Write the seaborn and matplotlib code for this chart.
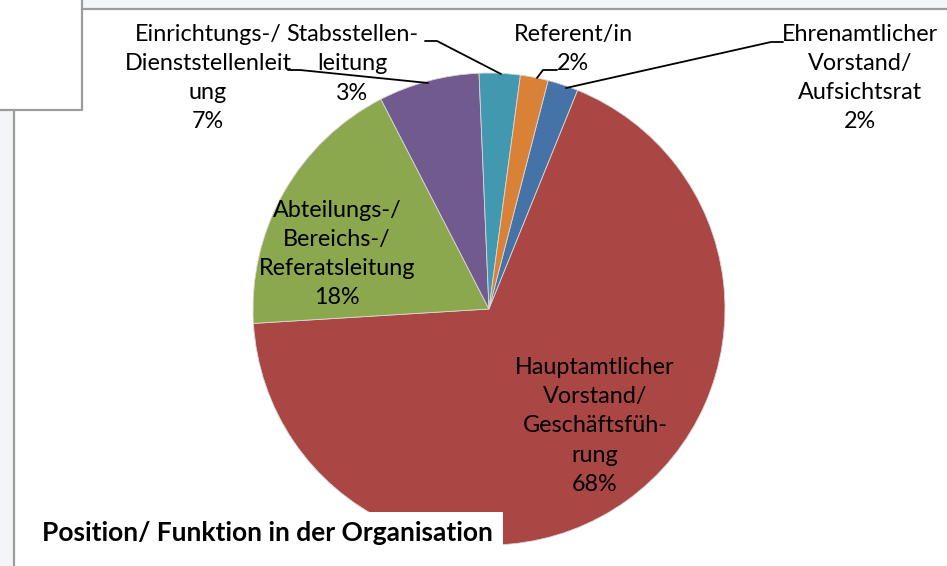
import matplotlib
matplotlib.use("Agg")
import matplotlib.pyplot as plt
import matplotlib.patches as mpatches
import seaborn as sns

# ------------------------------------------------------------
# data
# ------------------------------------------------------------
categories = [
    "Ehrenamtlicher\nVorstand/\nAufsichtsrat",
    "Hauptamtlicher\nVorstand/\nGeschäftsfüh-\nrung",
    "Abteilungs-/\nBereichs-/\nReferatsleitung",
    "Einrichtungs-/\nDienststellenleit\nung",
    "Stabsstellen-\nleitung",
    "Referent/in",
]
shares = [2.1, 67.9, 18.4, 6.9, 2.8, 1.9]
title = "Position/ Funktion in der Organisation"

colors = ["#4572A7", "#AA4644", "#8CA84E", "#715A8E", "#4298AF", "#DA8138"]

# label centres in pixels (x from left, y from top)
label_pos = [(860, 78), (595, 426), (337, 254), (208, 78), (352, 64), (573, 49)]

# leader lines in pixels (None = label sits inside the slice)
leaders = [
    [(566, 88), (771, 42), (783, 42)],
    None,
    None,
    [(428, 83), (300, 70), (288, 70)],
    [(501, 74), (437, 41), (425, 41)],
    [(537, 78), (543, 70), (557, 70)],
]

W, H = 947, 566

sns.set_style("white")
plt.rcParams["font.family"] = ["Lato", "DejaVu Sans"]

fig = plt.figure(figsize=(W / 100, H / 100), dpi=100)
ax = fig.add_axes([0, 0, 1, 1])


def py(y):
    return H - y


# pie: first slice starts 14.5 deg clockwise from 12 o'clock
ax.pie(
    shares,
    colors=colors,
    startangle=90 - 14.5,
    counterclock=False,
    center=(489, py(309)),
    radius=236,
    wedgeprops=dict(linewidth=0.6, edgecolor="#d8d8d8"),
    frame=True,
)
ax.set_xlim(0, W)
ax.set_ylim(0, H)
ax.set_aspect("equal")
ax.axis("off")

total = sum(shares)
for cat, val, (lx, ly), lead in zip(categories, shares, label_pos, leaders):
    pct = round(val / total * 100)
    ax.text(lx, py(ly), f"{cat}\n{pct}%", ha="center", va="center",
            multialignment="center", fontsize=16.8, color="#000000",
            linespacing=1.48, zorder=5)
    if lead is not None:
        xs = [p[0] for p in lead]
        ys = [py(p[1]) for p in lead]
        ax.plot(xs, ys, color="#000000", linewidth=1.3, zorder=4)

# title box covering the bottom-left of the pie
ax.add_patch(mpatches.Rectangle((14, 0), 503 - 14, py(512), facecolor="white",
                                edgecolor="none", zorder=6))
ax.text(42, py(533), title, ha="left", va="center", fontsize=19,
        fontweight="bold", color="#000000", zorder=7)

# surrounding window frame
frame_grey = "#f4f5f8"
line_grey = "#9c9c9c"
ax.add_patch(mpatches.Rectangle((0, py(9)), W, 9, facecolor=frame_grey,
                                edgecolor="none", zorder=8))
ax.plot([0, W], [py(9), py(9)], color=line_grey, linewidth=1.6, zorder=9)
ax.add_patch(mpatches.Rectangle((0, 0), 14, py(110), facecolor=frame_grey,
                                edgecolor="none", zorder=8))
ax.plot([14, 14], [0, py(110)], color=line_grey, linewidth=1.6, zorder=9)
ax.add_patch(mpatches.Rectangle((0, py(110)), 82, 110, facecolor="white",
                                edgecolor="none", zorder=9))
ax.plot([0, 82, 82], [py(110), py(110), H], color=line_grey, linewidth=1.6,
        zorder=10)

fig.savefig("out.png", dpi=100)
